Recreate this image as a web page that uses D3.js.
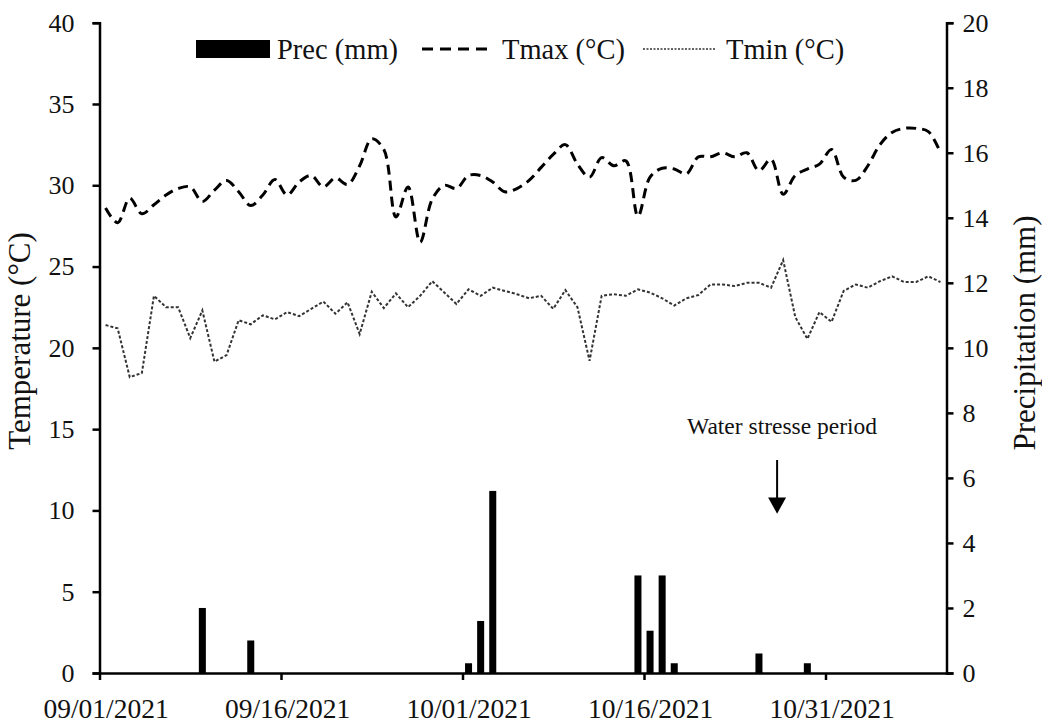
<!DOCTYPE html>
<html>
<head>
<meta charset="utf-8">
<script src="https://cdn.jsdelivr.net/npm/d3@7"></script>
<style>
  body { margin: 0; background: #fff; }
  text { font-family: "Liberation Serif", "Times New Roman", serif; fill: #111; }
</style>
</head>
<body>
<div id="chart"></div>
<script>
// daily series, 09/01/2021 .. 11/09/2021
var startDay = "09/01/2021";
var nDays = 70;

var tmax = [28.6, 27.7, 29.2, 28.25, 28.8, 29.4, 29.8, 29.9, 29.0, 29.7,
            30.3, 29.6, 28.75, 29.4, 30.35, 29.4, 30.2, 30.6, 29.9, 30.45,
            30.05, 31.2, 32.85, 32.2, 28.05, 29.9, 26.5, 29.15, 30.0, 29.8,
            30.6, 30.6, 30.2, 29.6, 29.8, 30.3, 31.1, 31.9, 32.5, 31.3,
            30.5, 31.7, 31.2, 31.5, 28.1, 30.5, 31.05, 31.0, 30.7, 31.75,
            31.75, 32.0, 31.75, 32.0, 30.9, 31.6, 29.45, 30.6, 31.0, 31.3,
            32.2, 30.5, 30.3, 31.2, 32.5, 33.25, 33.5, 33.5, 33.3, 32.0];

var tmin = [21.4, 21.2, 18.2, 18.45, 23.2, 22.5, 22.5, 20.6, 22.3, 19.15,
            19.55, 21.7, 21.45, 22.0, 21.75, 22.2, 21.95, 22.4, 22.85, 22.1,
            22.8, 20.85, 23.45, 22.45, 23.35, 22.5, 23.2, 24.1, 23.4, 22.7,
            23.6, 23.2, 23.7, 23.5, 23.3, 23.05, 23.2, 22.4, 23.55, 22.5,
            19.2, 23.2, 23.3, 23.2, 23.6, 23.4, 23.05, 22.6, 23.05, 23.25,
            23.9, 23.9, 23.8, 24.0, 24.0, 23.7, 25.4, 21.9, 20.55, 22.2,
            21.6, 23.5, 23.9, 23.7, 24.1, 24.4, 24.05, 24.05, 24.4, 24.05];

var precDates = ["09/09/2021", "09/13/2021", "10/01/2021", "10/02/2021", "10/03/2021",
                 "10/15/2021", "10/16/2021", "10/17/2021", "10/18/2021", "10/25/2021", "10/29/2021"];
var precMm = [2.0, 1.0, 0.3, 1.6, 5.6, 3.0, 1.3, 3.0, 0.3, 0.6, 0.3];

var xTicks = ["09/01/2021", "09/16/2021", "10/01/2021", "10/16/2021", "10/31/2021"];
var tempTicks = [0, 5, 10, 15, 20, 25, 30, 35, 40];
var precTicks = [0, 2, 4, 6, 8, 10, 12, 14, 16, 18, 20];

var stressDate = "10/27/2021";

var W = 1042, H = 725;
var margin = {left: 99.5, right: 95.5, top: 22.7, bottom: 52};

document.addEventListener('DOMContentLoaded', function () {
    var parse = d3.utcParse("%m/%d/%Y");
    var start = parse(startDay);
    var end = d3.utcDay.offset(start, nDays);
    var days = d3.utcDay.range(start, end);
    var mid = d => d3.utcHour.offset(d, 12);

    var svg = d3.select("#chart").append("svg")
        .attr("width", W).attr("height", H);

    var x = d3.scaleUtc().domain([start, end]).range([margin.left, W - margin.right]);
    var yT = d3.scaleLinear().domain([0, 40]).range([H - margin.bottom, margin.top]);
    var yP = d3.scaleLinear().domain([0, 20]).range([H - margin.bottom, margin.top]);
    var halfDay = x(mid(start)) - x(start);

    // precipitation bars
    var prec = precDates.map((d, i) => ({date: parse(d), mm: precMm[i]}));
    var barW = halfDay * 1.16;
    svg.append("g").selectAll("rect")
        .data(prec)
        .enter().append("rect")
        .attr("x", d => x(mid(d.date)) - barW / 2)
        .attr("y", d => yP(d.mm))
        .attr("width", barW)
        .attr("height", d => yP(0) - yP(d.mm))
        .attr("fill", "#000");

    // temperature lines
    var maxLine = d3.line()
        .x((d, i) => x(mid(days[i])))
        .y(d => yT(d))
        .curve(d3.curveCatmullRom.alpha(0.5));
    var minLine = d3.line()
        .x((d, i) => x(mid(days[i])))
        .y(d => yT(d));

    svg.append("path").attr("d", maxLine(tmax))
        .attr("fill", "none").attr("stroke", "#000")
        .attr("stroke-width", 3).attr("stroke-dasharray", "10,6");
    svg.append("path").attr("d", minLine(tmin))
        .attr("fill", "none").attr("stroke", "#333")
        .attr("stroke-width", 2).attr("stroke-dasharray", "3,2");

    // axes
    var left = svg.append("g")
        .attr("transform", "translate(" + margin.left + ",0)")
        .call(d3.axisLeft(yT).tickValues(tempTicks).tickSize(7).tickPadding(18));
    var right = svg.append("g")
        .attr("transform", "translate(" + (W - margin.right) + ",0)")
        .call(d3.axisRight(yP).tickValues(precTicks).tickSize(7).tickPadding(9));
    var bottom = svg.append("g")
        .attr("transform", "translate(0," + (H - margin.bottom) + ")")
        .call(d3.axisBottom(x).tickValues(xTicks.map(parse))
            .tickFormat(d3.utcFormat("%m/%d/%Y"))
            .tickSize(7).tickSizeOuter(0).tickPadding(18));
    bottom.selectAll(".tick text").attr("x", halfDay);

    [left, right, bottom].forEach(g => {
        g.selectAll("path, line").attr("stroke", "#000").attr("stroke-width", 2.5);
        g.selectAll("text")
            .style("font-family", "'Liberation Serif', serif")
            .attr("fill", "#111");
    });
    left.selectAll("text").style("font-size", "26px");
    right.selectAll("text").style("font-size", "26px");
    bottom.selectAll("text").style("font-size", "27.5px");

    // axis titles
    svg.append("text")
        .attr("transform", "translate(30," + 341 + ") rotate(-90)")
        .attr("text-anchor", "middle")
        .style("font-size", "31px")
        .text("Temperature (°C)");
    svg.append("text")
        .attr("transform", "translate(1035," + 333 + ") rotate(-90)")
        .attr("text-anchor", "middle")
        .style("font-size", "31px")
        .text("Precipitation (mm)");

    // annotation
    var ax = x(parse(stressDate));
    svg.append("text")
        .attr("x", ax + 5).attr("y", yT(14.7))
        .attr("text-anchor", "middle")
        .style("font-size", "23.5px")
        .text("Water stresse period");
    svg.append("line")
        .attr("x1", ax).attr("x2", ax)
        .attr("y1", yT(13.1)).attr("y2", yT(10.6))
        .attr("stroke", "#000").attr("stroke-width", 2);
    svg.append("path")
        .attr("d", "M" + (ax - 9) + "," + yT(10.8) + "L" + (ax + 9) + "," + yT(10.8) +
                   "L" + ax + "," + yT(9.8) + "Z")
        .attr("fill", "#000");

    // legend
    var lg = svg.append("g").style("font-size", "28.5px");
    lg.append("rect").attr("x", 196).attr("y", 40).attr("width", 74).attr("height", 18).attr("fill", "#000");
    lg.append("text").attr("x", 277).attr("y", 59).text("Prec (mm)");
    lg.append("line").attr("x1", 422).attr("x2", 490).attr("y1", 49).attr("y2", 49)
        .attr("stroke", "#000").attr("stroke-width", 3).attr("stroke-dasharray", "11,7");
    lg.append("text").attr("x", 502).attr("y", 59).text("Tmax (°C)");
    lg.append("line").attr("x1", 643).attr("x2", 716).attr("y1", 49).attr("y2", 49)
        .attr("stroke", "#333").attr("stroke-width", 1.5).attr("stroke-dasharray", "2,1.5");
    lg.append("text").attr("x", 726).attr("y", 59).text("Tmin (°C)");
});
</script>
</body>
</html>
